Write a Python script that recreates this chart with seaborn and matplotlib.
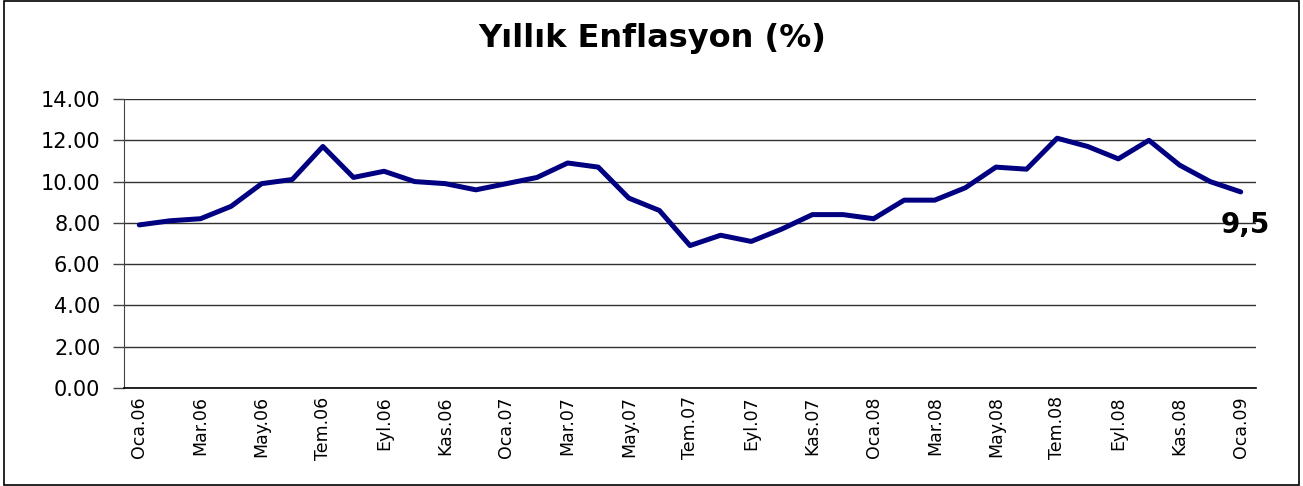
import seaborn as sns
import pandas as pd
import matplotlib.pyplot as plt
from matplotlib.patches import Rectangle

###################
# Data
months = ["Oca", "Şub", "Mar", "Nis", "May", "Haz", "Tem", "Ağu", "Eyl", "Eki", "Kas", "Ara"]
years = ["06", "07", "08", "09"]
period_labels = [f"{m}.{y}" for y in years for m in months][:37]

inflation = [7.9, 8.1, 8.2, 8.8, 9.9, 10.1, 11.7, 10.2, 10.5, 10.0, 9.9, 9.6,
             9.9, 10.2, 10.9, 10.7, 9.2, 8.6, 6.9, 7.4, 7.1, 7.7, 8.4, 8.4,
             8.2, 9.1, 9.1, 9.7, 10.7, 10.6, 12.1, 11.7, 11.1, 12.0, 10.8, 10.0, 9.5]

y_ticks = [0, 2, 4, 6, 8, 10, 12, 14]
last_label = "9,5"

data = pd.DataFrame({"idx": range(len(inflation)), "Enflasyon": inflation})

###################
# Setup
sns.set_style("white")
plt.rcParams["font.family"] = ["DejaVu Sans"]
plt.rcParams["text.color"] = "black"
plt.rcParams["xtick.color"] = "black"
plt.rcParams["ytick.color"] = "black"

fig = plt.figure(figsize=(13.03, 4.86), dpi=100)
ax = fig.add_axes([124 / 1303, 1 - 388 / 486, (1256 - 124) / 1303, (388 - 99) / 486])

sns.lineplot(data, x="idx", y="Enflasyon", ax=ax, color="#000080", linewidth=3.6)

ax.set_xlim(-0.5, len(inflation) - 0.5)
ax.set_ylim(0, 14)
ax.set_yticks(y_ticks)
ax.set_yticklabels([f"{v:.2f}" for v in y_ticks], fontsize=15)
ax.yaxis.grid(True, color="#303030", linewidth=1.0)
ax.set_axisbelow(True)

# category labels every 2 months, tick marks between categories
ax.set_xticks(range(0, len(inflation), 2))
ax.set_xticklabels(period_labels[::2], rotation=90, fontsize=12.5)
ax.set_xticks([i - 0.5 for i in range(0, len(inflation), 2)], minor=True)
ax.tick_params(axis="x", which="major", length=0, pad=6)
ax.tick_params(axis="x", which="minor", length=5, width=1, color="#555555", direction="out")
ax.tick_params(axis="y", length=8, width=1, color="#444444", direction="out", left=True, pad=9)

ax.set_xlabel("")
ax.set_ylabel("")
sns.despine(ax=ax, top=True, right=True)
ax.spines["left"].set_color("#444444")
ax.spines["bottom"].set_color("black")
ax.spines["bottom"].set_linewidth(1.2)

ax.annotate(last_label, xy=(len(inflation) - 1, inflation[-1]), xytext=(3, -24),
            textcoords="offset points", ha="center", va="center",
            fontsize=20, fontweight="bold")

fig.text(652 / 1303, 1 - 38 / 486, "Yıllık Enflasyon (%)", ha="center", va="center",
         fontsize=23, fontweight="bold")

fig.patches.append(Rectangle((4 / 1303, 1 / 486), 1295 / 1303, 484 / 486,
                             transform=fig.transFigure, fill=False,
                             edgecolor="black", linewidth=1.2))

###################
# Export
fig.savefig("out.png", dpi=100)
